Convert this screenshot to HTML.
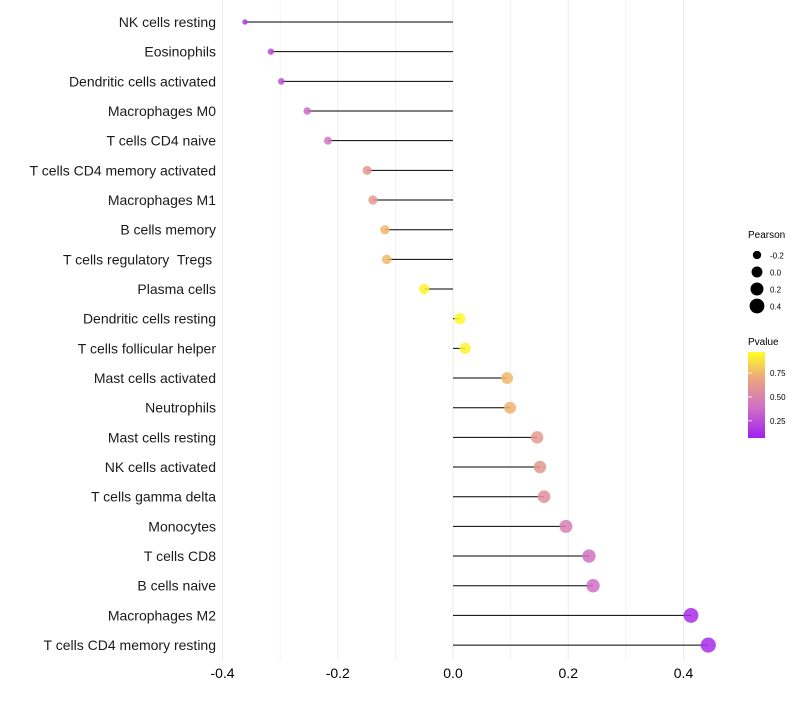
<!DOCTYPE html>
<html><head><meta charset="utf-8"><style>
body{margin:0;background:#fff;font-family:"Liberation Sans",sans-serif;}
svg text{font-family:"Liberation Sans",sans-serif;}
</style></head><body>
<svg id="chart" width="800" height="700">
<defs><linearGradient id="pg" x1="0" y1="1" x2="0" y2="0">
<stop offset="0" stop-color="#a020f0"/><stop offset="0.35" stop-color="#cf6fc4"/><stop offset="0.7" stop-color="#eda77f"/><stop offset="1" stop-color="#ffff20"/></linearGradient></defs>
<g id="grid"></g><g id="marks"></g><g id="labels"></g>
<g>
<text x="748" y="238" font-size="10">Pearson</text>
<g id="sizeLegend"></g>
<text x="748" y="345" font-size="10">Pvalue</text>
<rect x="748" y="352" width="17" height="86" fill="url(#pg)"/>
<g id="colorTicks"></g>
</g>
</svg>
<script>
const categories=["NK cells resting","Eosinophils","Dendritic cells activated","Macrophages M0","T cells CD4 naive","T cells CD4 memory activated","Macrophages M1","B cells memory","T cells regulatory\u00a0 Tregs\u00a0","Plasma cells","Dendritic cells resting","T cells follicular helper","Mast cells activated","Neutrophils","Mast cells resting","NK cells activated","T cells gamma delta","Monocytes","T cells CD8","B cells naive","Macrophages M2","T cells CD4 memory resting"];
const pearson=[-0.361,-0.316,-0.298,-0.253,-0.217,-0.149,-0.139,-0.118,-0.115,-0.050,0.012,0.021,0.094,0.099,0.146,0.151,0.158,0.196,0.236,0.243,0.413,0.443];
const pvalue=[0.10,0.18,0.22,0.33,0.40,0.60,0.62,0.75,0.76,0.96,0.98,0.96,0.76,0.74,0.62,0.60,0.55,0.45,0.36,0.35,0.06,0.05];
const xTicks=[-0.4,-0.2,0.0,0.2,0.4];
const sizeBreaks=[-0.2,0.0,0.2,0.4];
const colorBreaks=[0.25,0.5,0.75];
const NS="http://www.w3.org/2000/svg";
const xs=v=>453+v*576.25;
const ys=i=>22+i*29.67;
const rs=v=>Math.sqrt(Math.max(2.2,29.8+62*v));
function cs(p){const st=[[0,[160,32,240]],[0.35,[207,111,196]],[0.7,[237,167,127]],[1,[255,255,32]]];
for(let k=1;k<st.length;k++){if(p<=st[k][0]){const t=(p-st[k-1][0])/(st[k][0]-st[k-1][0]);const c=st[k-1][1].map((a,j)=>Math.round(a+(st[k][1][j]-a)*t));return `rgb(${c})`;}}return "rgb(255,255,32)";}
function mk(tag,at,parent){const e=document.createElementNS(NS,tag);for(const k in at)e.setAttribute(k,at[k]);parent.appendChild(e);return e;}
const grid=document.getElementById('grid'),marks=document.getElementById('marks'),labels=document.getElementById('labels');
for(let v=-0.4;v<=0.451;v+=0.1){const l=mk('line',{x1:xs(v),x2:xs(v),y1:0,y2:660,stroke:'#ebebeb','stroke-width':Math.abs(Math.round(v*10))%2==0?1:0.6},grid);

}
xTicks.forEach(v=>{const t=mk('text',{x:xs(v),y:678,'font-size':14,'text-anchor':'middle',fill:'#000'},labels);t.textContent=v.toFixed(1);

});
categories.forEach((c,i)=>{const y=ys(i);
const t=mk('text',{x:216,y:y+5,'font-size':14,'text-anchor':'end',fill:'#1a1a1a'},labels);t.textContent=c;


const l=mk('line',{x1:xs(0),x2:xs(pearson[i]),y1:y,y2:y,stroke:'#000','stroke-width':1},marks);


const d=mk('circle',{cx:xs(pearson[i]),cy:y,r:rs(pearson[i]),fill:cs(pvalue[i]),'fill-opacity':0.85},marks);

});
const sl=document.getElementById('sizeLegend');
sizeBreaks.forEach((v,i)=>{const y=255+i*17;const c=mk('circle',{cx:757,cy:y,r:rs(v),fill:'#000'},sl);


const t=mk('text',{x:770,y:y+3.5,'font-size':8},sl);t.textContent=v.toFixed(1);

});
const ct=document.getElementById('colorTicks');
colorBreaks.forEach(p=>{const y=438-(p-0.07)/0.9*86;
const l=mk('line',{x1:748,x2:752,y1:y,y2:y,stroke:'#fff','stroke-width':0.8},ct);


const t=mk('text',{x:770,y:y+3,'font-size':8},ct);t.textContent=p.toFixed(2);

});
</script>
</body></html>
